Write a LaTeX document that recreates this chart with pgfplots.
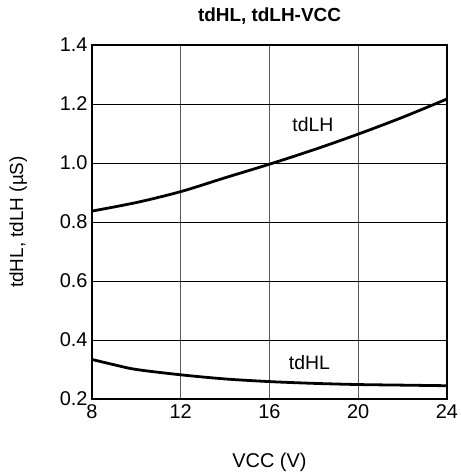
\documentclass[border=0pt]{standalone}
\usepackage{fontspec}
\setmainfont{Liberation Sans}
\usepackage{pgfplots}
\pgfplotsset{compat=1.18}
\begin{document}
\begin{tikzpicture}
\begin{axis}[
  scale only axis,
  width=355bp, height=354bp,
  xmin=8, xmax=24, ymin=0.2, ymax=1.4,
  xtick={8,12,16,20,24},
  ytick={0.2,0.4,0.6,0.8,1.0,1.2,1.4},
  yticklabel style={/pgf/number format/fixed,/pgf/number format/fixed zerofill,/pgf/number format/precision=1, xshift=-1bp},
  /pgf/number format/assume math mode=true,
  major tick length=0pt,
  xmajorgrids, ymajorgrids,
  x grid style={line width=0.9pt, gray!70!black},
  y grid style={line width=0.9pt, black},
  axis line style={line width=2.2pt},
  tick label style={font=\fontsize{20}{23}\selectfont},
  xticklabel style={yshift=-2bp},
  title={\textbf{tdHL, tdLH-VCC}},
  title style={font=\fontsize{19}{22}\selectfont, at={(axis description cs:0.5,1.066)}, anchor=center},
  xlabel={VCC (V)},
  xlabel style={font=\fontsize{20}{23}\selectfont, at={(axis description cs:0.5,-0.178)}, anchor=center},
  ylabel={tdHL, tdLH (µS)},
  ylabel style={font=\fontsize{19}{22}\selectfont, at={(axis description cs:-0.208,0.5)}, anchor=center},
]
\addplot[black, line width=2.8pt, smooth] coordinates {
 (8,0.837) (10,0.866) (12,0.903) (14,0.950) (16,0.996) (18,1.045) (20,1.098) (22,1.155) (24,1.217)};
\addplot[black, line width=2.8pt, smooth] coordinates {
 (8,0.334) (9,0.316) (10,0.300) (12,0.282) (14,0.268) (16,0.259) (18,0.253) (20,0.249) (22,0.247) (24,0.245)};
\node[font=\fontsize{19.5}{22}\selectfont] at (axis cs:17.96,1.132) {tdLH};
\node[font=\fontsize{19.5}{22}\selectfont] at (axis cs:17.8,0.324) {tdHL};
\end{axis}
\pgfresetboundingbox
\path (current axis.south west) ++(-92bp,-76bp) rectangle ([shift={(14bp,45bp)}]current axis.north east);
\end{tikzpicture}
\end{document}
